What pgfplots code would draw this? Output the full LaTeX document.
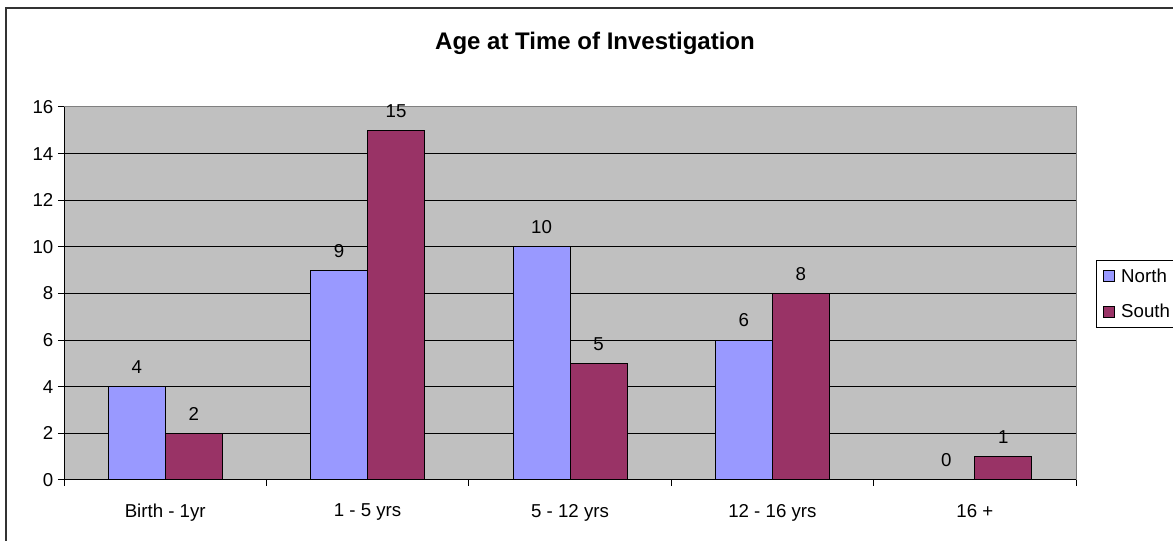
\documentclass[border=0pt]{standalone}
\usepackage{fontspec}
\setmainfont{Liberation Sans}
\usepackage{pgfplots}
\pgfplotsset{compat=1.18}
\definecolor{north}{HTML}{9999FF}
\definecolor{south}{HTML}{993366}
\definecolor{plotbg}{HTML}{C0C0C0}
\begin{document}
\begin{tikzpicture}[x=1pt,y=1pt]
\clip (0,0) rectangle (879.75,405.75);
\fill[white] (0,0) rectangle (879.75,405.75);
\draw[line width=1.5pt, black!80] (4.5,-20) rectangle (920,399.75);
\begin{axis}[
  at={(48pt,45.75pt)}, anchor=south west,
  scale only axis, width=759pt, height=279.75pt,
  ybar=0pt, bar width=42.75pt,
  xmin=-0.5, xmax=4.5, ymin=0, ymax=16,
  ytick={0,2,...,16},
  xtick={0,...,4},
  xticklabels={Birth - 1yr, 1 - 5 yrs, 5 - 12 yrs, 12 - 16 yrs, 16 +},
  minor xtick={-0.5,0.5,...,4.5},
  major x tick style={draw=none},
  tick align=outside, tick pos=left,
  major tick length=4.5pt, minor tick length=4.5pt,
  ymajorgrids, grid style={black, line width=0.75pt},
  axis background/.style={fill=plotbg},
  axis line style={draw=gray, line width=0.75pt},
  tick style={black, line width=0.75pt},
  font=\fontsize{14}{16}\selectfont,
  tick label style={font=\fontsize{14}{16}\selectfont},
  xticklabel style={yshift=-10pt},
  /pgf/number format/assume math mode=true,
  nodes near coords,
  nodes near coords style={font=\fontsize{14}{16}\selectfont, black, yshift=6pt},
  every axis plot/.append style={draw=black, line width=0.75pt},
  legend style={at={(1.0195,0.5898)}, anchor=north west, draw=black, line width=0.75pt, fill=white,
    font=\fontsize{14}{16}\selectfont, row sep=11pt, inner xsep=5pt, inner ysep=4pt},
  legend cell align=left,
  legend image code/.code={\draw[#1, line width=0.75pt] (0pt,-4pt) rectangle (8pt,4pt); \path (11pt,0pt);},
  title={Age at Time of Investigation},
  title style={at={(0.5247,1.1484)}, anchor=center, font=\bfseries\fontsize{18}{20}\selectfont},
]
\addplot[fill=north] coordinates {(0,4) (1,9) (2,10) (3,6) (4,0)};
\addplot[fill=south] coordinates {(0,2) (1,15) (2,5) (3,8) (4,1)};
\legend{North, South}
\draw[black, line width=0.75pt] (rel axis cs:0,0) -- (rel axis cs:0,1);
\draw[black, line width=0.75pt] (rel axis cs:0,0) -- (rel axis cs:1,0);
\end{axis}
\end{tikzpicture}
\end{document}
